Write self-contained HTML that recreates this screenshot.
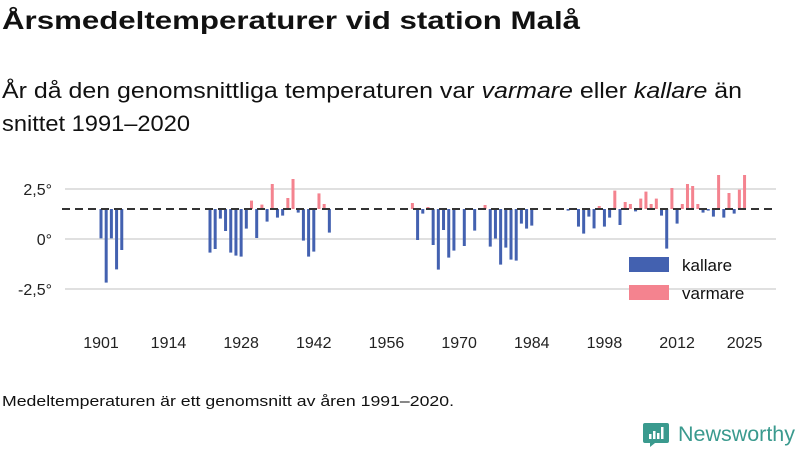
<!DOCTYPE html>
<html><head><meta charset="utf-8"><style>
html,body{margin:0;padding:0;background:#fff;width:800px;height:450px;overflow:hidden}
svg{display:block;font-family:"Liberation Sans",sans-serif}
</style></head><body>
<svg id="chart" width="800" height="450" viewBox="0 0 800 450">
<text x="2" y="29" font-size="25" font-weight="bold" fill="#111" textLength="578" lengthAdjust="spacingAndGlyphs">Årsmedeltemperaturer vid station Malå</text>
<text x="2" y="98" font-size="22" fill="#111" textLength="740" lengthAdjust="spacingAndGlyphs">År då den genomsnittliga temperaturen var <tspan font-style="italic">varmare</tspan> eller <tspan font-style="italic">kallare</tspan> än</text>
<text x="2" y="131" font-size="22" fill="#111" textLength="188" lengthAdjust="spacingAndGlyphs">snittet 1991–2020</text>
<g id="grid"></g>
<g id="bars"></g>
<g id="xaxis"></g>
<g id="yaxis"></g>
<line id="avg" stroke="#333" stroke-width="2" stroke-dasharray="8,5"></line>
<g>
<rect x="629" y="257" width="40" height="15" fill="#4361b0"></rect>
<text x="682" y="271" font-size="17" fill="#111">kallare</text>
<rect x="629" y="285" width="40" height="15" fill="#f4838f"></rect>
<text x="682" y="299" font-size="17" fill="#111">varmare</text>
</g>
<text x="2" y="406" font-size="15" fill="#111" textLength="452" lengthAdjust="spacingAndGlyphs">Medeltemperaturen är ett genomsnitt av åren 1991–2020.</text>
<g>
<path d="M645 423 h22 a2 2 0 0 1 2 2 v16 a2 2 0 0 1 -2 2 h-12 l-5 4 v-4 h-5 a2 2 0 0 1 -2 -2 v-16 a2 2 0 0 1 2 -2z" fill="#3a9a8e"></path>
<rect x="649" y="434" width="2.5" height="5" fill="#fff"></rect>
<rect x="653" y="431" width="2.5" height="8" fill="#fff"></rect>
<rect x="657" y="433" width="2.5" height="6" fill="#fff"></rect>
<rect x="661" y="427" width="2.5" height="12" fill="#fff"></rect>
<text x="678" y="441" font-size="21" fill="#3a9a8e" textLength="117" lengthAdjust="spacingAndGlyphs">Newsworthy</text>
</g>
</svg>
<script>
const years = [1901,1902,1903,1904,1905,1922,1923,1924,1925,1926,1927,1928,1929,1930,1931,1932,1933,1934,1935,1936,1937,1938,1939,1940,1941,1942,1943,1944,1945,
1961,1962,1963,1964,1965,1966,1967,1968,1969,1971,1973,1975,1976,1977,1978,1979,1980,1981,1982,1983,1984,
1991,1993,1994,1995,1996,1997,1998,1999,2000,2001,2002,2003,2004,2005,2006,2007,2008,2009,2010,2011,2012,2013,2014,2015,2016,2017,2018,2019,2020,2021,2022,2023,2024,2025];
const temps = [0.03,-2.18,0.03,-1.52,-0.55,-0.68,-0.5,1.02,0.4,-0.68,-0.83,-0.88,0.52,1.92,0.05,1.72,0.87,2.75,1.07,1.17,2.05,3.0,1.32,-0.08,-0.88,-0.63,2.28,1.75,0.32,
1.8,-0.05,1.27,1.6,-0.3,-1.53,0.45,-0.93,-0.58,-0.35,0.42,1.7,-0.38,0.02,-1.28,-0.43,-1.03,-1.08,0.77,0.52,0.67,
1.42,0.62,0.27,1.12,0.53,1.65,0.62,1.07,2.42,0.7,1.85,1.75,1.38,2.02,2.37,1.75,2.02,1.17,-0.48,2.55,0.77,1.75,2.75,2.65,1.75,1.32,1.42,1.12,3.2,1.07,2.3,1.27,2.47,3.2];
const average = 1.5;
const xTicks = [1901,1914,1928,1942,1956,1970,1984,1998,2012,2025];
const yTicks = [2.5,0,-2.5];
const yTickLabels = ["2,5°","0°","-2,5°"];

const NS="http://www.w3.org/2000/svg";
const x = yr => 101 + (yr-1901)*5.19;
const y = v => 239 - v*20;
function mk(tag, attrs, parent){const e=document.createElementNS(NS,tag);for(const k in attrs)e.setAttribute(k,attrs[k]);parent.appendChild(e);return e;}
const grid=document.getElementById('grid'), bars=document.getElementById('bars'), xa=document.getElementById('xaxis'), ya=document.getElementById('yaxis');
yTicks.forEach((t,i)=>{
  const l=mk('line',{x1:65,x2:776,y1:y(t),y2:y(t),stroke:'#e0e0e0','stroke-width':2},grid);
  
  
  const tx=mk('text',{x:52,y:y(t)+6,'text-anchor':'end','font-size':16,fill:'#222'},ya);
  tx.textContent=yTickLabels[i];
  
  
});
xTicks.forEach(t=>{
  const tx=mk('text',{x:x(t),y:348,'text-anchor':'middle','font-size':16,fill:'#222'},xa);
  tx.textContent=t;
  
  
});
years.forEach((yr,i)=>{
  const v=temps[i], warm=v>average;
  const top=Math.min(y(v),y(average)), h=Math.abs(y(v)-y(average));
  const r=mk('rect',{x:x(yr)-1.5,y:top,width:3,height:Math.max(h,0.5),fill:warm?'#f4838f':'#4361b0'},bars);
  
  
});
const a=document.getElementById('avg');
a.setAttribute('x1',62);a.setAttribute('x2',776);a.setAttribute('y1',y(average));a.setAttribute('y2',y(average));
</script>
</body></html>
